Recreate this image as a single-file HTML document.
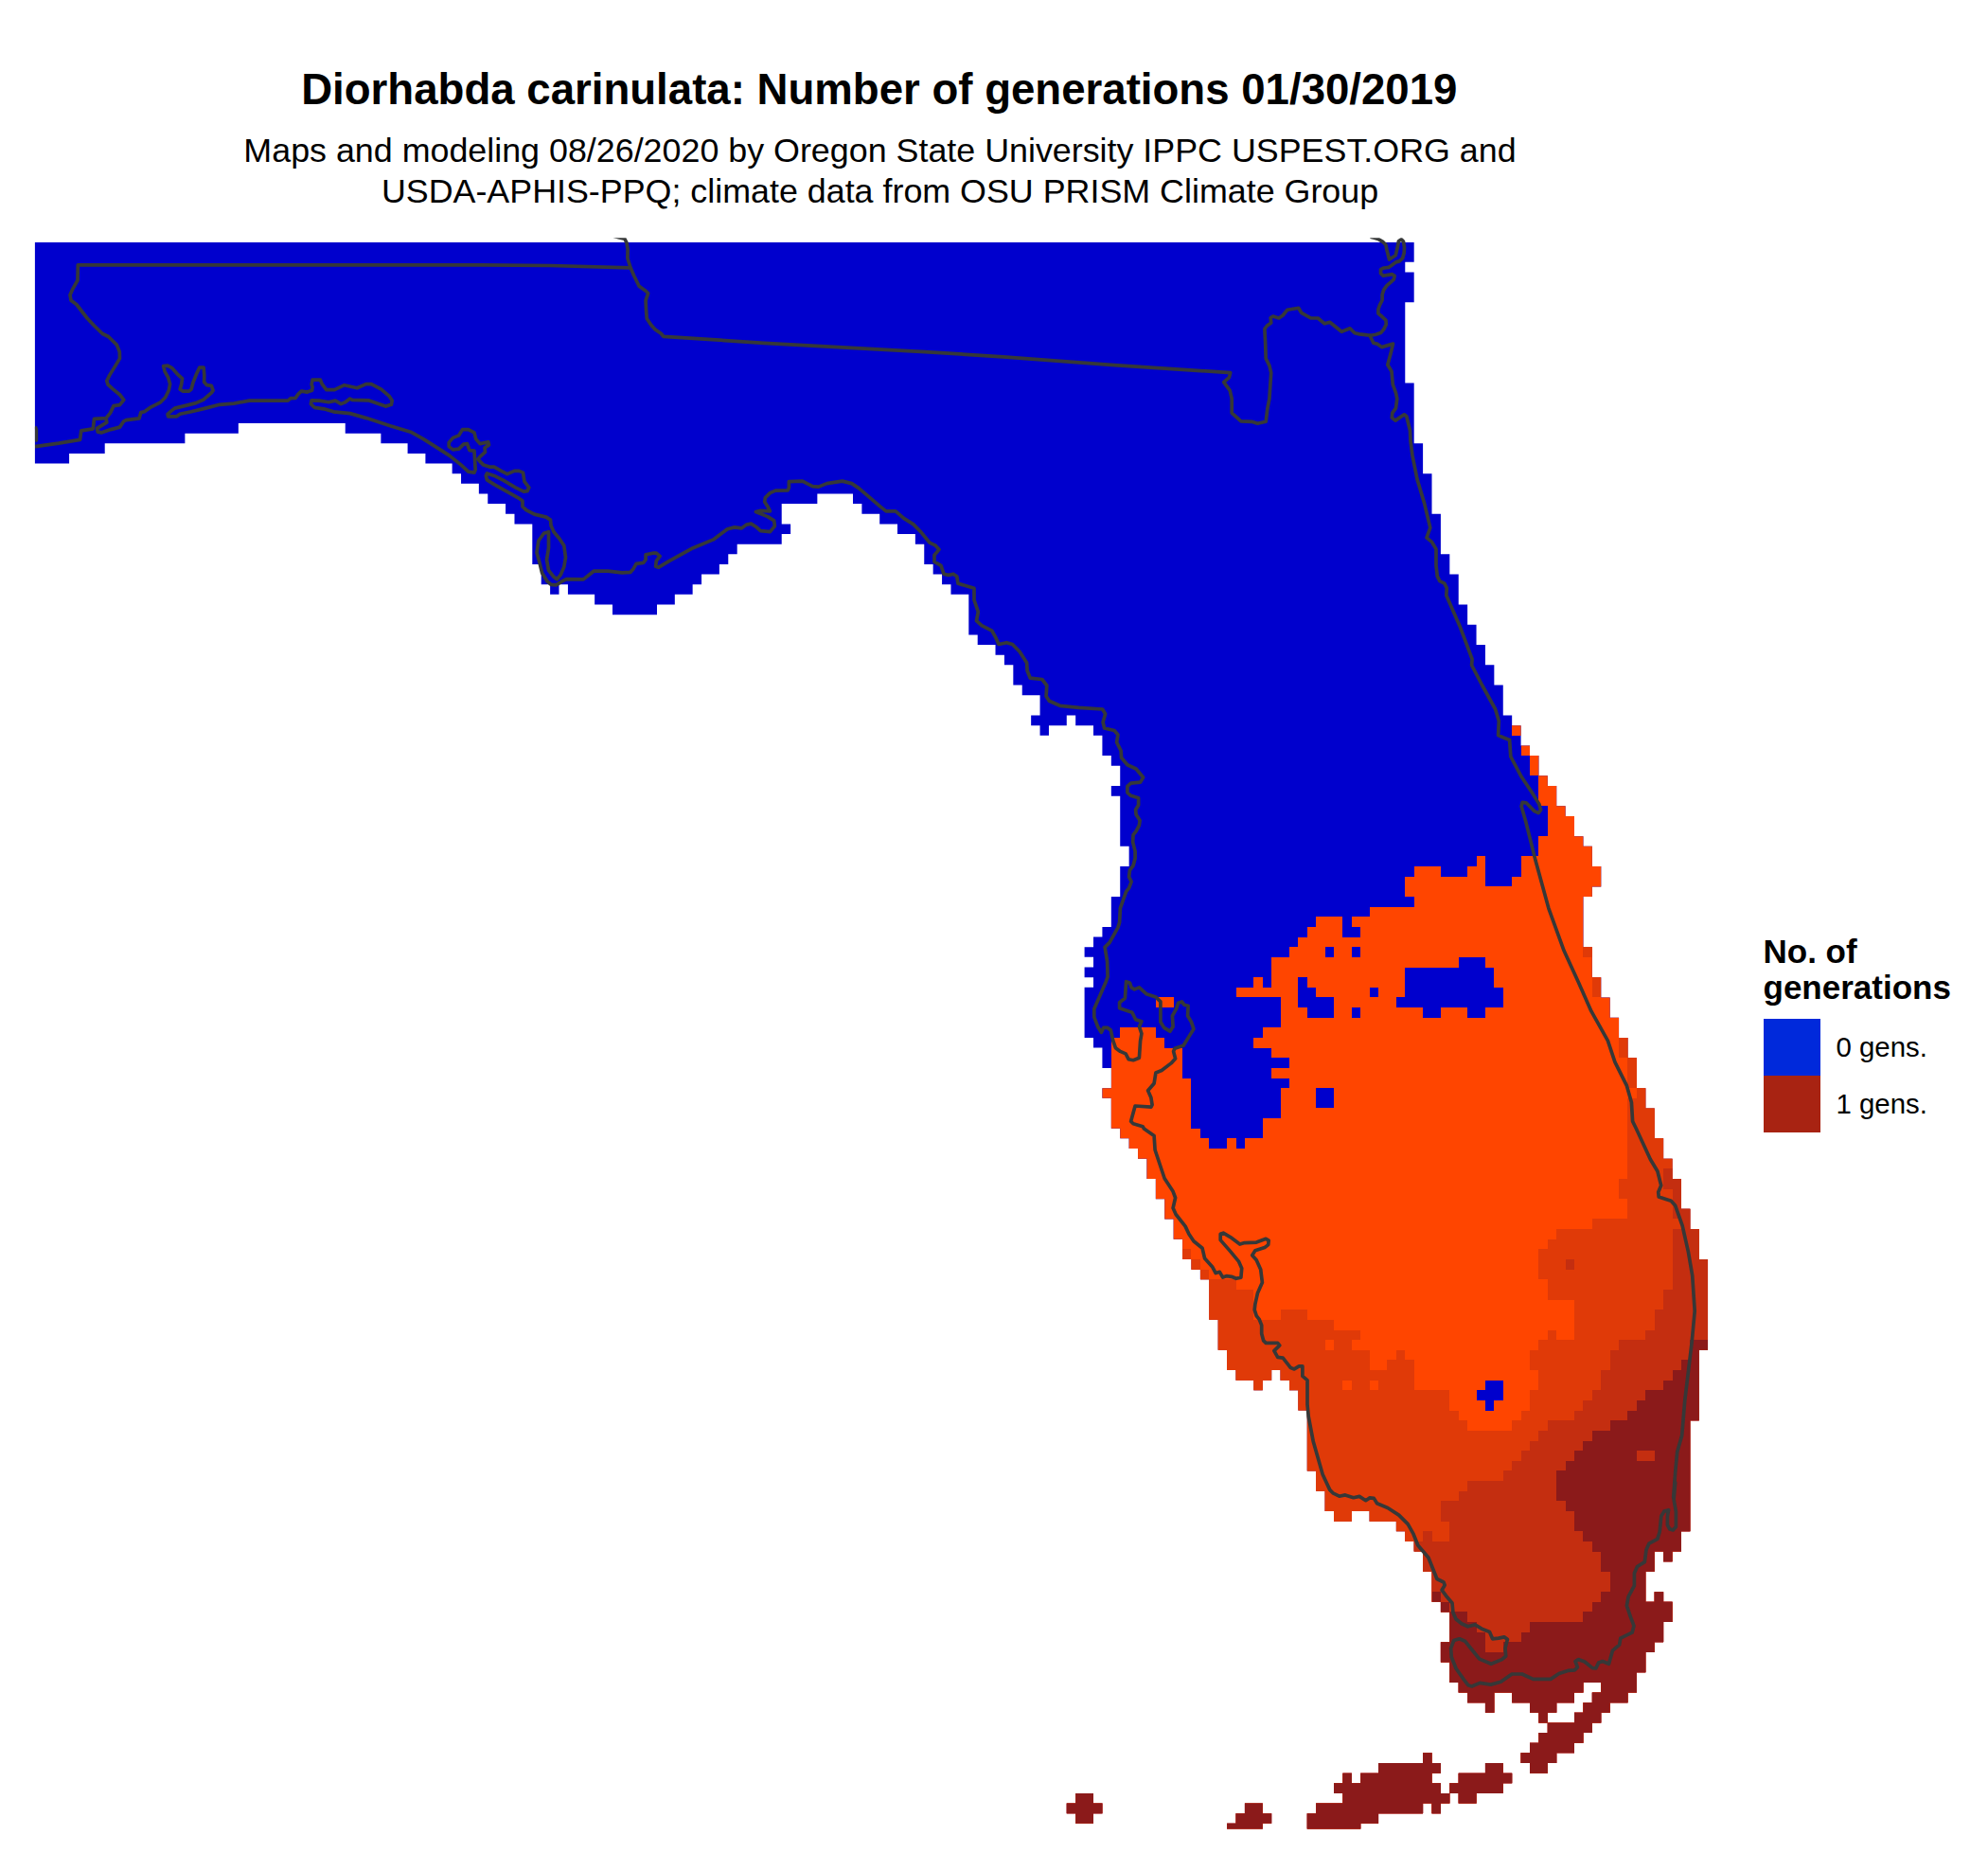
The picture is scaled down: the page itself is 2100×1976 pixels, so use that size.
<!DOCTYPE html>
<html><head><meta charset="utf-8"><title>Diorhabda carinulata: Number of generations</title>
<style>
html,body{margin:0;padding:0;background:#fff}
body{width:2100px;height:1976px;position:relative;overflow:hidden;font-family:"Liberation Sans",sans-serif;color:#000}
.t{position:absolute;white-space:nowrap;line-height:1}
#title{left:0;width:1857.6px;text-align:center;top:71.6px;font-size:45.6px;font-weight:bold}
#sub1{left:0;width:1859px;text-align:center;top:141.9px;font-size:35.85px}
#sub2{left:0;width:1859px;text-align:center;top:184.6px;font-size:35.85px}
#lt1{left:1862.5px;top:986.8px;font-size:35px;font-weight:bold}
#lt2{left:1862.5px;top:1024.9px;font-size:35px;font-weight:bold}
#l0{left:1939.5px;top:1091.4px;font-size:29.4px}
#l1{left:1939.5px;top:1151.4px;font-size:29.4px}
.sw{position:absolute;left:1863px;width:60px;height:60px}
</style></head><body>
<svg width="2100" height="1976" viewBox="0 0 2100 1976" style="position:absolute;left:0;top:0" shape-rendering="crispEdges">
<defs><clipPath id="land"><path d="M0 0 L155 0 L155 2 L154 2 L154 3 L155 3 L155 6 L154 6 L154 14 L155 14 L155 20 L156 20 L156 23 L157 23 L157 27 L158 27 L158 31 L159 31 L159 33 L160 33 L160 36 L161 36 L161 38 L162 38 L162 40 L163 40 L163 42 L164 42 L164 44 L165 44 L165 47 L166 47 L166 48 L167 48 L167 50 L168 50 L168 51 L169 51 L169 53 L170 53 L170 54 L171 54 L171 56 L172 56 L172 57 L173 57 L173 59 L174 59 L174 60 L175 60 L175 62 L176 62 L176 64 L175 64 L175 65 L174 65 L174 70 L175 70 L175 73 L176 73 L176 75 L177 75 L177 77 L178 77 L178 79 L179 79 L179 81 L180 81 L180 84 L181 84 L181 86 L182 86 L182 89 L183 89 L183 91 L184 91 L184 93 L185 93 L185 96 L186 96 L186 98 L187 98 L187 101 L188 101 L188 110 L187 110 L187 117 L186 117 L186 128 L185 128 L185 130 L184 130 L184 131 L183 131 L183 130 L182 130 L182 132 L181 132 L181 135 L182 135 L182 134 L183 134 L183 135 L184 135 L184 137 L183 137 L183 139 L182 139 L182 140 L181 140 L181 142 L180 142 L180 144 L179 144 L179 145 L177 145 L177 146 L176 146 L176 147 L175 147 L175 148 L174 148 L174 149 L173 149 L173 150 L171 150 L171 151 L170 151 L170 152 L168 152 L168 151 L167 151 L167 150 L168 150 L168 149 L169 149 L169 148 L170 148 L170 147 L173 147 L173 146 L174 146 L174 145 L175 145 L175 144 L176 144 L176 143 L174 143 L174 144 L173 144 L173 145 L171 145 L171 146 L170 146 L170 147 L169 147 L169 146 L168 146 L168 145 L166 145 L166 144 L164 144 L164 146 L163 146 L163 145 L161 145 L161 144 L160 144 L160 143 L159 143 L159 141 L158 141 L158 139 L159 139 L159 136 L158 136 L158 135 L157 135 L157 132 L156 132 L156 130 L155 130 L155 129 L154 129 L154 128 L153 128 L153 127 L150 127 L150 127 L150 126 L148 126 L148 127 L146 127 L146 126 L145 126 L145 124 L144 124 L144 122 L143 122 L143 116 L142 116 L142 114 L141 114 L141 113 L140 113 L140 112 L139 112 L139 113 L138 113 L138 114 L137 114 L137 113 L135 113 L135 112 L134 112 L134 110 L133 110 L133 107 L132 107 L132 103 L131 103 L131 102 L130 102 L130 101 L129 101 L129 99 L128 99 L128 97 L127 97 L127 95 L126 95 L126 93 L125 93 L125 91 L124 91 L124 90 L123 90 L123 89 L122 89 L122 88 L121 88 L121 85 L120 85 L120 84 L121 84 L121 82 L120 82 L120 80 L119 80 L119 79 L118 79 L118 74 L119 74 L119 73 L118 73 L118 72 L119 72 L119 71 L118 71 L118 70 L119 70 L119 69 L120 69 L120 68 L121 68 L121 65 L122 65 L122 62 L123 62 L123 60 L122 60 L122 55 L121 55 L121 54 L122 54 L122 52 L121 52 L121 51 L120 51 L120 49 L119 49 L119 48 L117 48 L117 47 L116 47 L116 48 L114 48 L114 49 L113 49 L113 48 L112 48 L112 47 L113 47 L113 45 L111 45 L111 44 L110 44 L110 42 L109 42 L109 41 L108 41 L108 40 L106 40 L106 39 L105 39 L105 35 L103 35 L103 34 L102 34 L102 33 L101 33 L101 32 L100 32 L100 30 L99 30 L99 29 L97 29 L97 28 L95 28 L95 27 L93 27 L93 26 L92 26 L92 25 L88 25 L88 26 L84 26 L84 28 L85 28 L85 29 L84 29 L84 30 L79 30 L79 31 L78 31 L78 32 L77 32 L77 33 L75 33 L75 34 L74 34 L74 35 L72 35 L72 36 L70 36 L70 37 L65 37 L65 36 L63 36 L63 35 L60 35 L60 34 L59 34 L59 35 L58 35 L58 34 L57 34 L57 32 L56 32 L56 28 L54 28 L54 27 L53 27 L53 26 L51 26 L51 25 L50 25 L50 24 L48 24 L48 23 L47 23 L47 22 L44 22 L44 21 L42 21 L42 20 L39 20 L39 19 L35 19 L35 18 L23 18 L23 19 L17 19 L17 20 L8 20 L8 21 L4 21 L4 22 L0 22ZM156 150H157V151H156ZM151 151H158V152H151ZM163 151H165V152H163ZM149 152H157V153H149ZM147 152H148V153H147ZM160 152H166V153H160ZM146 153H158V154H146ZM159 153H165V154H159ZM147 154H159V155H147ZM160 154H162V155H160ZM117 154H119V155H117ZM144 155H156V156H144ZM157 155H158V156H157ZM116 155H120V156H116ZM136 155H138V156H136ZM143 156H151V157H143ZM117 156H119V157H117ZM135 156H139V157H135ZM143 157H149V158H143ZM134 157H138V158H134Z"/></clipPath><clipPath id="panel"><rect x="36.9" y="255.8" width="2000" height="1675.7"/></clipPath><clipPath id="outclip"><rect x="36.9" y="251.3" width="1800" height="1680.2"/></clipPath></defs>
<g clip-path="url(#panel)"><g transform="translate(35.45,255.5) scale(9.408,10.639)"><g clip-path="url(#land)">
<rect x="-5" y="-5" width="210" height="175" fill="#0000CD"/>
<path d="M195 51 L168 51 L168 53 L169 53 L169 56 L170 56 L170 59 L169 59 L169 61 L167 61 L167 63 L166 63 L166 64 L163 64 L163 61 L162 61 L162 62 L161 62 L161 63 L158 63 L158 62 L155 62 L155 63 L154 63 L154 65 L155 65 L155 66 L150 66 L150 67 L148 67 L148 68 L149 68 L149 69 L147 69 L147 67 L144 67 L144 68 L143 68 L143 69 L142 69 L142 70 L141 70 L141 71 L139 71 L139 74 L138 74 L138 73 L137 73 L137 74 L135 74 L135 75 L140 75 L140 78 L138 78 L138 79 L137 79 L137 80 L139 80 L139 81 L141 81 L141 82 L139 82 L139 83 L141 83 L141 84 L140 84 L140 87 L138 87 L138 89 L136 89 L136 90 L135 90 L135 89 L134 89 L134 90 L132 90 L132 89 L131 89 L131 88 L130 88 L130 83 L129 83 L129 80 L127 80 L127 79 L126 79 L126 78 L122 78 L122 79 L121 79 L121 84 L100 84 L100 160 L195 160ZM166 48H167V49H166ZM167 50H168V51H167ZM126 75H128V76H126Z" fill="#FF4500"/>
<path d="M145 70H146V71H145ZM148 70H149V71H148ZM160 71H163V72H160ZM154 72H164V73H154ZM142 73H143V74H142ZM154 73H164V74H154ZM142 74H144V75H142ZM150 74H151V75H150ZM154 74H165V75H154ZM142 75H146V76H142ZM153 75H165V76H153ZM143 76H146V77H143ZM148 76H149V77H148ZM156 76H158V77H156ZM161 76H163V77H161ZM144 84H146V85H144ZM144 85H146V86H144ZM163 113H165V114H163ZM162 114H165V115H162ZM163 115H164V116H163Z" fill="#0000CD"/>
<path d="M179 86 L179 93 L178 93 L178 95 L179 95 L179 97 L175 97 L175 98 L171 98 L171 99 L170 99 L170 100 L169 100 L169 103 L170 103 L170 105 L173 105 L173 109 L171 109 L171 108 L170 108 L170 109 L169 109 L169 110 L168 110 L168 112 L169 112 L169 114 L168 114 L168 116 L167 116 L167 117 L166 117 L166 118 L161 118 L161 117 L160 117 L160 116 L159 116 L159 114 L155 114 L155 111 L154 111 L154 110 L153 110 L153 111 L152 111 L152 112 L150 112 L150 110 L148 110 L148 109 L149 109 L149 108 L146 108 L146 107 L143 107 L143 106 L140 106 L140 107 L137 107 L137 104 L135 104 L135 103 L132 103 L100 103 L100 160 L195 160 L195 86ZM174 70H175V71H174ZM175 73H176V74H175ZM175 74H176V75H175ZM178 79H191V80H178ZM178 80H191V81H178ZM179 81H191V82H179ZM179 82H191V83H179ZM179 83H191V84H179ZM180 84H191V85H180ZM179 85H191V86H179ZM129 100H130V101H129ZM130 101H131V102H130ZM131 102H132V103H131Z" fill="#E03A08"/>
<path d="M145 109H146V110H145ZM147 113H148V114H147ZM150 113H151V114H150Z" fill="#FF4500"/>
<path d="M195 98 L184 98 L184 104 L183 104 L183 106 L182 106 L182 108 L181 108 L181 109 L178 109 L178 110 L177 110 L177 112 L176 112 L176 114 L175 114 L175 115 L174 115 L174 116 L173 116 L173 117 L170 117 L170 118 L169 118 L169 119 L168 119 L168 120 L167 120 L167 121 L166 121 L166 122 L165 122 L165 123 L161 123 L161 124 L160 124 L160 125 L158 125 L158 127 L159 127 L159 129 L157 129 L157 128 L156 128 L156 129 L140 129 L140 160 L195 160ZM183 92H184V93H183ZM183 93H191V94H183ZM184 94H191V95H184ZM184 95H191V96H184ZM184 96H191V97H184ZM185 97H191V98H185ZM172 101H173V102H172Z" fill="#C42E10"/>
<path d="M195 110 L186 110 L186 111 L185 111 L185 112 L184 112 L184 113 L183 113 L183 114 L181 114 L181 115 L180 115 L180 116 L179 116 L179 117 L177 117 L177 118 L175 118 L175 119 L174 119 L174 120 L173 120 L173 121 L172 121 L172 122 L171 122 L171 125 L172 125 L172 126 L173 126 L173 128 L174 128 L174 129 L175 129 L175 130 L176 130 L176 132 L177 132 L177 134 L176 134 L176 135 L175 135 L175 136 L174 136 L174 137 L168 137 L168 138 L167 138 L167 139 L165 139 L165 140 L163 140 L163 138 L162 138 L162 137 L161 137 L161 136 L100 136 L100 160 L195 160ZM186 109H188V110H186ZM157 134H158V135H157ZM158 135H159V136H158Z" fill="#8B1A1A"/>
<path d="M180 120H182V121H180Z" fill="#C42E10"/>
</g></g></g>
<g fill="none" stroke="#363838" stroke-width="3.7" stroke-linejoin="round" stroke-linecap="butt" shape-rendering="geometricPrecision" clip-path="url(#outclip)"><polyline points="37.0,471.6 62.0,468.1 84.5,464.4 85.8,454.8 98.3,452.8 99.5,442.3 112.0,441.6 116.5,436.1 120.0,428.6 126.5,427.6 130.8,422.3 127.0,417.3 119.5,411.1 114.0,406.1 112.8,402.3 115.8,396.1 122.0,386.1 126.5,378.6 126.3,371.6 123.3,364.1 114.5,355.5 108.3,352.5 99.5,344.0 92.0,336.0 80.8,321.5 75.0,317.3 74.0,311.5 77.0,304.8 82.0,296.0 82.3,279.8 507.0,279.8 582.0,280.5 666.1,282.8"/><polyline points="37.0,450.6 38.3,453.6 38.3,464.9 37.0,465.6"/><polyline points="647.9,249.2 654.3,251.0 659.9,252.2 662.0,256.5 663.1,263.4 662.9,272.8 666.1,282.8 669.6,291.0 675.1,302.3 682.1,307.3 684.6,309.8 682.1,317.3 682.6,328.5 683.3,336.5 687.6,343.0 692.1,348.0 698.3,352.3 700.8,355.3 807.2,362.3 977.0,371.6 1059.5,376.8 1177.1,385.6 1299.7,393.6 1298.4,398.6 1292.7,403.6 1299.2,412.3 1301.2,421.1 1301.2,436.1 1310.9,444.8 1322.2,445.3 1328.4,447.3 1337.2,445.3 1338.9,431.1 1340.9,421.1 1342.7,393.6 1340.9,386.1 1337.2,378.6 1336.7,363.6 1335.9,347.3 1338.4,344.0 1342.7,341.0 1342.2,335.5 1344.7,334.0 1350.9,336.0 1355.2,333.0 1359.7,327.3 1371.7,325.3 1374.7,330.3 1384.7,336.0 1392.2,336.0 1399.2,341.8 1404.7,340.3 1417.2,350.3 1426.0,346.8 1431.0,351.8 1436.0,352.9 1444.4,353.9 1448.2,354.2 1453.4,353.2 1458.5,351.6 1461.7,347.8 1464.3,342.6 1463.9,338.1 1459.8,334.3 1455.9,331.1 1455.9,326.6 1457.5,322.1 1460.1,317.0 1460.1,311.2 1461.7,306.1 1464.9,301.6 1468.7,298.4 1472.3,295.2 1473.2,291.3 1470.7,289.7 1466.2,290.4 1461.1,291.3 1458.5,288.7 1458.5,284.6 1461.7,283.0 1467.1,282.3 1470.7,279.8 1474.5,276.9 1478.1,275.9 1481.6,272.7 1483.2,266.9 1483.5,261.2 1482.5,255.1 1480.3,252.8 1477.4,254.8 1476.1,261.8 1474.2,269.8 1467.5,274.0 1464.9,263.7 1463.9,258.6 1461.1,255.7 1455.9,252.5 1451.8,251.2 1447.6,250.3"/><polyline points="1447.0,354.3 1450.8,362.3 1454.5,363.1 1459.5,366.6 1471.5,363.1 1469.0,373.6 1465.8,385.3 1470.0,392.3 1471.3,406.1 1474.5,414.8 1475.8,421.1 1474.5,431.1 1470.8,436.1 1470.3,441.1 1474.0,444.1 1483.3,437.8 1485.8,439.8 1489.5,454.8 1490.0,466.1 1492.0,481.1 1497.0,506.1 1504.5,531.1 1510.8,557.4 1507.0,567.9 1512.5,572.4 1517.0,579.9 1517.0,597.4 1518.3,608.7 1520.8,613.7 1525.8,616.2 1528.3,621.2 1527.8,628.7 1542.0,661.2 1555.1,696.2 1554.6,702.5 1565.8,724.0 1579.6,749.0 1583.3,761.5 1582.6,776.5 1587.1,778.5 1594.6,781.5 1595.8,799.0 1607.1,820.3 1619.6,839.1 1625.8,849.1 1627.6,855.3 1625.1,858.6 1620.8,856.6 1612.1,847.8 1608.3,847.3 1607.1,851.6 1612.1,869.1 1622.1,909.1 1635.8,959.1 1652.1,1004.1 1667.1,1036.7 1680.9,1067.9 1698.4,1099.2 1705.9,1121.7 1718.4,1146.7 1723.4,1164.2 1724.6,1184.2 1728.4,1192.0 1743.4,1224.5 1750.9,1237.0 1754.7,1252.0 1751.7,1259.0 1752.2,1264.0 1759.7,1266.5 1765.2,1268.3 1769.7,1273.3 1777.2,1294.6 1783.4,1322.1 1787.7,1347.1 1790.2,1384.6 1787.2,1417.1 1779.7,1479.6 1776.7,1515.9 1771.7,1533.4 1769.7,1554.7 1767.7,1581.7 1769.7,1565.8 1768.1,1583.6 1770.4,1596.6 1770.4,1612.6 1767.3,1615.9 1763.8,1615.0 1761.4,1610.7 1761.4,1601.3 1762.6,1594.7 1757.9,1596.1 1754.8,1601.3 1753.2,1617.8 1750.8,1625.4 1742.0,1630.1 1739.0,1636.7 1737.3,1649.7 1729.5,1654.5 1726.4,1661.6 1726.4,1674.6 1720.1,1686.4 1718.4,1695.9 1722.4,1707.7 1726.0,1717.1 1724.1,1724.2 1711.8,1730.1 1710.6,1737.2 1703.5,1743.1 1699.5,1757.3 1692.9,1754.5 1688.6,1756.1 1685.8,1762.0 1682.2,1761.6 1674.0,1755.0 1667.3,1752.6 1664.0,1754.5 1666.4,1760.9 1663.3,1763.9 1656.2,1764.4 1646.8,1767.5 1638.0,1773.4 1619.6,1773.4 1607.8,1768.0 1597.1,1768.0 1585.3,1776.2 1574.7,1779.1 1563.3,1777.4 1554.6,1781.0 1551.0,1779.8 1546.3,1773.9 1538.0,1762.0 1533.3,1750.2 1532.6,1740.8 1535.7,1732.5 1541.6,1730.8 1547.5,1733.2 1554.6,1742.0 1562.8,1752.1 1575.1,1757.3 1586.5,1752.6 1590.7,1749.0 1590.0,1740.8 1592.4,1731.3 1588.9,1728.9 1582.9,1730.1 1576.6,1730.8 1573.5,1723.5 1565.2,1720.2 1558.1,1715.9 1550.6,1717.8 1543.9,1714.8 1538.0,1710.0 1534.9,1702.9 1534.0,1693.0 1527.4,1685.2 1523.1,1679.3 1526.2,1674.1 1525.0,1671.0 1517.9,1667.5 1508.9,1645.0 1497.8,1632.0 1493.1,1620.2 1487.2,1609.6 1477.7,1600.1 1465.9,1592.5 1454.6,1587.8 1451.3,1582.4 1447.0,1581.9 1442.7,1584.7 1436.0,1580.4 1429.7,1581.7 1421.0,1578.9 1414.7,1580.2 1408.5,1577.2 1404.7,1573.4 1397.2,1557.2 1387.2,1522.2 1382.2,1495.9 1381.0,1483.4 1381.0,1457.6 1375.9,1453.4 1375.9,1442.9 1372.2,1442.9 1367.2,1445.9 1363.4,1444.6 1355.2,1434.1 1349.7,1433.4 1345.9,1426.6 1351.7,1420.9 1349.7,1418.4 1337.2,1418.4 1334.7,1415.9 1332.7,1408.4 1332.7,1399.6 1330.2,1393.4 1327.2,1389.6 1325.2,1383.3 1325.9,1377.1 1328.4,1365.8 1333.4,1354.6 1331.7,1340.8 1327.2,1330.8 1322.7,1325.8 1325.9,1320.8 1335.9,1317.6 1339.7,1314.6 1340.2,1310.1 1337.2,1308.3 1327.2,1312.1 1314.7,1312.6 1309.7,1314.1 1299.7,1306.6 1292.2,1302.1 1289.2,1303.3 1289.2,1309.6 1299.7,1321.6 1308.4,1332.1 1311.7,1339.6 1310.9,1349.1 1305.9,1350.3 1300.9,1348.3 1295.9,1347.6 1291.7,1349.1 1288.4,1343.3 1284.2,1344.6 1280.9,1338.3 1272.6,1329.1 1270.1,1318.3 1260.9,1310.8 1255.9,1303.3 1252.1,1295.1 1242.1,1282.5 1239.1,1275.8 1241.6,1265.0 1239.1,1258.3 1230.1,1244.5 1220.1,1214.5 1219.1,1199.5 1208.4,1192.0 1207.1,1189.7 1197.1,1186.7 1194.6,1184.2 1199.1,1168.0 1215.9,1169.2 1217.1,1166.7 1215.9,1159.2 1212.6,1151.7 1219.1,1144.2 1220.9,1133.0 1227.1,1130.5 1237.1,1122.9 1241.6,1117.9 1239.6,1110.4 1240.9,1107.2 1250.1,1104.2 1257.1,1092.9 1260.9,1086.7 1258.4,1079.2 1254.6,1072.9 1255.1,1062.2 1250.9,1061.2 1248.4,1057.9 1244.6,1059.2 1242.6,1065.4 1238.4,1072.9 1239.1,1084.2 1235.9,1089.2 1229.6,1085.4 1225.9,1079.2 1225.9,1057.9 1220.9,1052.9 1210.9,1049.7 1203.4,1042.9 1198.4,1044.9 1195.1,1042.9 1193.4,1037.9 1189.6,1036.7 1188.4,1054.2 1182.6,1058.7 1182.6,1064.7 1195.9,1069.2 1199.6,1076.7 1205.9,1078.7 1203.4,1084.2 1205.9,1091.7 1204.6,1099.2 1203.4,1117.2 1197.1,1119.7 1192.1,1118.7 1189.1,1112.9 1183.4,1110.4 1178.4,1106.7 1175.8,1099.2 1173.3,1087.9 1169.6,1085.4 1165.8,1085.4 1163.3,1090.4 1159.6,1084.2 1155.8,1074.2 1155.8,1065.4 1168.3,1036.7 1170.1,1031.7 1169.6,1015.4 1167.1,1000.4 1172.1,995.4 1180.9,979.6 1182.6,974.1 1183.4,959.1 1189.6,941.6 1192.6,937.9 1195.1,931.1 1192.6,926.1 1193.4,919.1 1197.1,914.1 1199.1,906.6 1199.1,899.1 1196.6,889.1 1197.1,881.6 1200.1,877.8 1203.4,871.6 1204.1,866.6 1200.1,860.3 1199.6,855.3 1202.6,850.3 1202.6,842.8 1194.6,840.3 1190.9,837.1 1190.9,830.3 1194.6,827.1 1204.6,826.1 1207.6,821.0 1200.1,812.0 1190.9,807.8 1184.6,800.3 1184.1,792.8 1179.6,784.0 1180.9,776.0 1177.1,771.5 1166.6,769.0 1165.1,762.8 1167.6,754.0 1164.6,749.0 1139.6,747.3 1119.6,745.3 1108.3,740.3 1105.1,735.3 1105.8,724.0 1100.8,717.5 1088.3,716.2 1085.1,708.2 1084.6,700.0 1077.1,688.2 1069.5,680.5 1063.3,678.7 1055.0,680.5 1052.0,673.7 1047.8,666.2 1037.0,660.7 1031.5,655.7 1033.3,646.2 1029.0,633.7 1029.0,621.2 1012.0,616.2 1010.8,608.7 1007.0,606.2 1002.0,607.4 997.0,606.2 994.0,597.4 987.0,593.2 987.0,586.2 992.0,580.4 988.3,576.2 982.0,573.2 972.2,561.2 964.7,553.6 954.7,547.4 946.0,539.9 936.0,539.9 929.7,534.9 917.2,524.1 907.2,515.6 899.7,510.6 889.7,508.1 873.4,510.6 864.7,514.1 858.4,513.6 853.4,511.1 847.7,508.1 833.4,508.6 833.4,514.9 832.2,517.9 819.2,518.1 813.4,520.6 808.4,525.6 807.7,529.9 810.9,534.9 813.4,539.9 803.4,539.4 798.4,540.6 810.9,545.6 817.7,549.9 818.4,555.6 813.4,561.7 803.4,560.7 798.4,556.2 793.4,553.1 788.4,554.1 783.4,557.9 775.9,556.9 768.4,558.7 753.4,569.9 732.1,578.7 707.1,592.4 695.8,599.2 692.6,598.2 693.3,592.4 697.1,587.4 693.3,584.2 689.6,584.2 682.1,585.7 682.1,591.2 679.6,594.4 672.1,595.4 669.1,600.7 665.8,604.4 657.1,604.9 642.1,603.2 627.1,603.2 616.3,611.9 598.3,611.7 593.3,614.2 587.5,617.9 582.0,617.4 578.3,614.2 572.5,604.9 569.5,592.4 567.0,583.7 568.8,571.2 574.5,563.2 579.5,561.7 579.5,578.7 577.5,591.2 579.5,602.4 584.5,608.7 588.3,611.7 592.0,607.4 595.8,598.7 597.5,588.7 595.8,576.2 590.8,568.7 585.0,561.7 582.0,554.9 581.5,549.1 577.0,546.1 564.5,543.1 555.8,538.6 552.0,534.9 552.0,529.1 547.0,525.6 534.5,518.6 522.0,511.6 514.5,506.9 513.3,502.4 514.5,499.9 522.0,502.4 532.0,507.4 544.5,514.9 553.3,519.1 557.0,518.6 558.8,514.9 554.0,508.6 552.5,499.1 548.3,497.4 543.3,497.4 535.8,500.6 529.5,497.4 522.0,493.1 517.0,493.1 510.8,491.1 507.0,487.4 505.0,484.9 507.0,482.4 512.5,477.4 512.0,473.1 516.5,469.9 515.8,466.9 507.0,468.6 502.7,463.6 501.0,456.9 494.7,453.6 488.5,453.6 484.7,459.9 478.5,462.4 474.2,467.4 474.2,471.6 478.5,474.9 484.7,474.1 489.7,469.1 493.5,468.6 496.0,475.6 501.0,476.1 502.2,496.1 501.0,499.1 494.7,498.1 487.2,491.1 474.7,481.1 462.2,473.1 447.2,463.6 434.7,456.6 412.2,449.8 387.2,441.6 369.7,436.6 352.2,434.8 342.2,431.8 332.1,430.3 328.4,426.6 329.1,422.8 337.2,423.1 347.2,424.8 354.2,423.1 360.2,426.6 364.7,424.8 369.7,421.1 372.2,422.3 389.2,422.8 398.4,426.1 407.2,429.1 413.4,427.3 414.2,423.1 410.9,418.1 402.7,411.1 392.2,405.6 386.7,405.6 377.2,409.8 363.4,406.8 353.4,411.6 344.7,411.6 340.2,405.6 338.4,401.1 330.1,401.1 329.1,406.1 330.1,408.6 329.6,412.3 324.6,414.1 318.4,413.1 315.1,416.1 312.1,420.3 307.1,420.6 304.1,423.1 263.4,423.1 247.1,426.1 232.1,427.3 217.1,431.1 202.1,434.8 190.1,437.3 186.6,439.8 177.6,439.8 177.1,437.3 180.8,434.1 184.6,431.1 197.1,428.1 207.1,425.6 214.6,422.3 223.3,414.8 225.1,412.3 223.3,407.3 218.3,406.6 215.6,403.6 215.8,396.1 215.1,388.1 210.8,388.1 207.6,394.8 204.1,403.6 202.1,411.1 199.6,413.1 193.3,413.1 190.1,411.1 191.6,406.1 192.6,399.8 187.1,394.8 181.6,388.6 177.1,386.1 172.6,386.6 174.1,392.3 177.6,398.6 179.6,405.6 178.3,412.3 174.6,419.8 169.6,424.8 159.6,429.8 152.6,434.8 148.8,435.6 147.1,441.8 133.3,443.6 130.8,444.8 126.5,451.1 117.0,453.6 107.0,456.9 103.3,456.1 102.5,452.3 112.8,446.1 112.0,441.6"/></g>
</svg>
<div class="t" id="title">Diorhabda carinulata: Number of generations 01/30/2019</div>
<div class="t" id="sub1">Maps and modeling 08/26/2020 by Oregon State University IPPC USPEST.ORG and</div>
<div class="t" id="sub2">USDA-APHIS-PPQ; climate data from OSU PRISM Climate Group</div>
<div class="t" id="lt1">No. of</div>
<div class="t" id="lt2">generations</div>
<div class="sw" style="top:1076px;background:#0029DB"></div>
<div class="sw" style="top:1136px;background:#A82312"></div>
<div class="t" id="l0">0 gens.</div>
<div class="t" id="l1">1 gens.</div>
</body></html>
